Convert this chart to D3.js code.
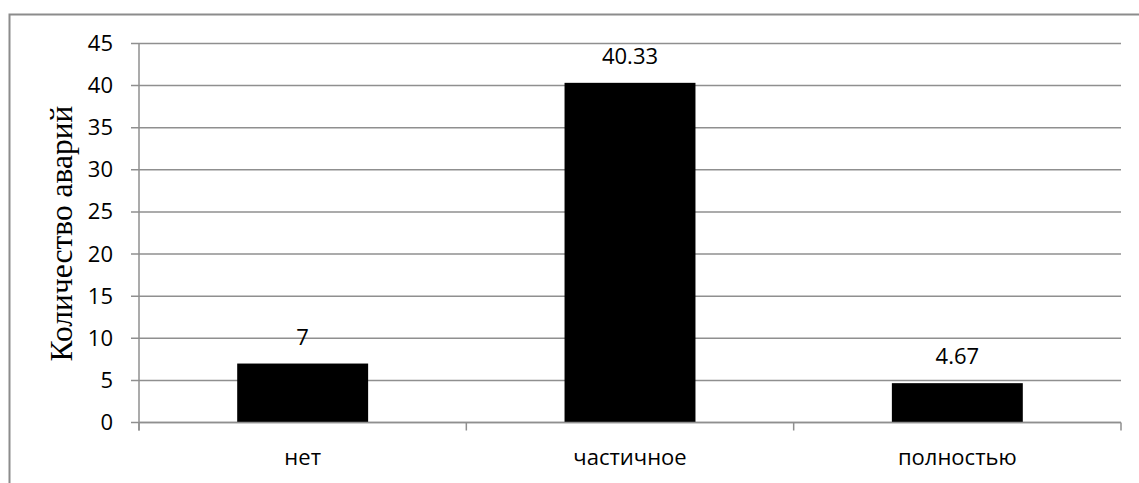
<!DOCTYPE html>
<html>
<head>
<meta charset="utf-8">
<script src="https://cdn.jsdelivr.net/npm/d3@7"></script>
<style>
  html, body { margin: 0; padding: 0; background: #fff; }
  svg { display: block; }
</style>
</head>
<body>
<svg id="chart" width="1139" height="483"></svg>
<script>
// Categories and values
const categories = ["нет", "частичное", "полностью"];
const values = [7, 40.33, 4.67];
const valueLabels = ["7", "40.33", "4.67"];
const yTicks = [0, 5, 10, 15, 20, 25, 30, 35, 40, 45];
const yTitle = "Количество аварий";

const svg = d3.select("#chart");
const W = 1139, H = 483;
const plot = { left: 139, right: 1121, top: 43.5, bottom: 422.5 };
const gridColor = "#8f8f8f";
const labelFont = "'Open Sans', sans-serif";
const labelSize = 22;

// Outer frame (top and left edges fall inside the canvas)
svg.append("rect")
  .attr("x", 9.5).attr("y", 14.5)
  .attr("width", W).attr("height", H)
  .attr("fill", "none").attr("stroke", "#8c8c8c").attr("stroke-width", 2);

const x = d3.scaleBand()
  .domain(categories)
  .range([plot.left, plot.right])
  .paddingInner(0.6)
  .paddingOuter(0.3);

const y = d3.scaleLinear()
  .domain([0, 45])
  .range([plot.bottom, plot.top]);

// Horizontal gridlines
svg.append("g")
  .selectAll("line")
  .data(yTicks)
  .join("line")
  .attr("x1", plot.left - 8).attr("x2", plot.right)
  .attr("y1", d => y(d)).attr("y2", d => y(d))
  .attr("stroke", gridColor).attr("stroke-width", 1.5);

// Y axis
const yAxis = d3.axisLeft(y).tickValues(yTicks).tickSize(0).tickPadding(26);
const gy = svg.append("g").attr("transform", `translate(${plot.left},0)`).call(yAxis);
gy.select(".domain").remove();
gy.selectAll("text")
  .attr("font-family", labelFont).attr("font-size", labelSize).attr("fill", "#000");

svg.append("line")
  .attr("x1", plot.left).attr("x2", plot.left)
  .attr("y1", plot.top).attr("y2", plot.bottom + 8)
  .attr("stroke", gridColor).attr("stroke-width", 1.5);

// Bars
svg.append("g")
  .selectAll("rect")
  .data(values)
  .join("rect")
  .attr("x", (d, i) => x(categories[i]))
  .attr("width", x.bandwidth())
  .attr("y", d => y(d))
  .attr("height", d => y(0) - y(d))
  .attr("fill", "#000");

// X axis
const step = x.step();
const catTicks = d3.range(categories.length + 1).map(i => plot.left + i * step);
svg.append("line")
  .attr("x1", plot.left).attr("x2", plot.right)
  .attr("y1", plot.bottom).attr("y2", plot.bottom)
  .attr("stroke", gridColor).attr("stroke-width", 1.5);
svg.append("g")
  .selectAll("line")
  .data(catTicks)
  .join("line")
  .attr("x1", d => d).attr("x2", d => d)
  .attr("y1", plot.bottom).attr("y2", plot.bottom + 8)
  .attr("stroke", gridColor).attr("stroke-width", 1.5);

const xAxis = d3.axisBottom(x).tickSize(0).tickPadding(27);
const gx = svg.append("g").attr("transform", `translate(0,${plot.bottom})`).call(xAxis);
gx.select(".domain").remove();
gx.selectAll("text")
  .attr("font-family", labelFont).attr("font-size", labelSize).attr("fill", "#000");

// Value labels
svg.append("g")
  .selectAll("text")
  .data(values)
  .join("text")
  .attr("x", (d, i) => x(categories[i]) + x.bandwidth() / 2)
  .attr("y", d => y(d) - 19)
  .attr("text-anchor", "middle")
  .attr("font-family", labelFont).attr("font-size", labelSize)
  .text((d, i) => valueLabels[i]);

// Y axis title
svg.append("text")
  .attr("transform", `translate(61,${233.5}) rotate(-90)`)
  .attr("text-anchor", "middle")
  .attr("dominant-baseline", "central")
  .attr("font-family", "'Liberation Serif', 'Times New Roman', serif")
  .attr("font-size", 31.5)
  .text(yTitle);
</script>
</body>
</html>
